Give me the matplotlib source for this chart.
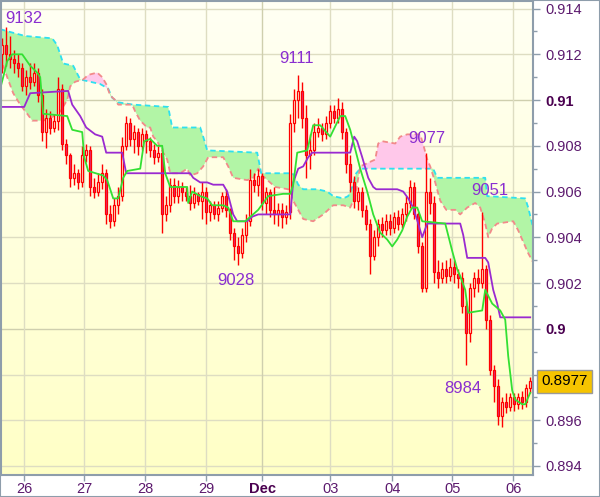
import numpy as np
import matplotlib
matplotlib.use("Agg")
import matplotlib.pyplot as plt
from matplotlib.colors import LinearSegmentedColormap
from matplotlib.patches import Rectangle

# ---------------- data (prices in pips: 9120 -> 0.9120) ----------------
first_open = 9120
closes = [9124, 9120, 9118, 9116, 9114, 9106, 9110, 9108, 9112, 9102,
          9086, 9092, 9088, 9091, 9105, 9081, 9076, 9066, 9068, 9064,
          9076, 9078, 9062, 9060, 9064, 9068, 9050, 9047, 9054, 9058,
          9080, 9090, 9083, 9086, 9080, 9085, 9082, 9078, 9075, 9077,
          9050, 9054, 9063, 9058, 9062, 9060, 9058, 9055, 9059, 9056,
          9060, 9051, 9054, 9050, 9053, 9058, 9052, 9042, 9036, 9033,
          9041, 9047, 9065, 9063, 9067, 9055, 9060, 9052, 9050, 9052,
          9049, 9051, 9090, 9100, 9104, 9092, 9076, 9078, 9086, 9088,
          9085, 9090, 9095, 9092, 9096, 9086, 9072, 9064, 9056, 9060,
          9052, 9046, 9032, 9040, 9046, 9043, 9047, 9044, 9049, 9046,
          9050, 9055, 9062, 9050, 9036, 9018, 9060, 9055, 9025, 9022,
          9026, 9023, 9027, 9024, 9022, 9010, 8998, 9018, 9022, 9020,
          9026, 9004, 8982, 8975, 8962, 8968, 8966, 8970, 8967, 8970,
          8968, 8974, 8977]
highs = [9127, 9132, 9128, 9122, 9120, 9116, 9113, 9116, 9116, 9114,
         9105, 9096, 9095, 9094, 9110, 9107, 9083, 9077, 9072, 9070,
         9080, 9081, 9080, 9066, 9068, 9072, 9070, 9054, 9057, 9062,
         9084, 9093, 9092, 9089, 9088, 9088, 9087, 9084, 9081, 9080,
         9079, 9058, 9066, 9066, 9065, 9064, 9062, 9063, 9062, 9060,
         9064, 9062, 9056, 9056, 9056, 9060, 9061, 9053, 9044, 9040,
         9044, 9050, 9070, 9068, 9070, 9068, 9062, 9061, 9062, 9055,
         9055, 9054, 9094, 9105, 9111, 9108, 9098, 9085, 9090, 9092,
         9090, 9093, 9098, 9098, 9101, 9099, 9088, 9076, 9067, 9062,
         9062, 9054, 9048, 9043, 9048, 9049, 9050, 9050, 9051, 9052,
         9053, 9058, 9065, 9064, 9051, 9038, 9077, 9066, 9058, 9030,
         9029, 9030, 9031, 9030, 9026, 9025, 9012, 9020, 9025, 9026,
         9051, 9028, 9006, 8984, 8978, 8970, 8972, 8972, 8972, 8972,
         8973, 8976, 8979]
lows = [9112, 9115, 9114, 9112, 9110, 9104, 9102, 9105, 9106, 9099,
        9082, 9079, 9085, 9086, 9087, 9078, 9072, 9062, 9063, 9061,
        9062, 9073, 9058, 9057, 9058, 9061, 9046, 9044, 9045, 9050,
        9056, 9078, 9080, 9077, 9076, 9078, 9077, 9075, 9072, 9073,
        9042, 9047, 9051, 9055, 9055, 9056, 9056, 9052, 9053, 9054,
        9048, 9046, 9047, 9048, 9047, 9051, 9049, 9039, 9030, 9028,
        9031, 9038, 9045, 9060, 9058, 9052, 9050, 9049, 9046, 9045,
        9044, 9046, 9048, 9086, 9092, 9088, 9066, 9070, 9076, 9084,
        9082, 9083, 9088, 9090, 9090, 9083, 9068, 9060, 9053, 9052,
        9049, 9043, 9024, 9030, 9036, 9040, 9041, 9041, 9042, 9043,
        9044, 9047, 9053, 9048, 9033, 9016, 9016, 9050, 9020, 9018,
        9020, 9020, 9021, 9020, 9018, 9007, 8984, 8994, 9014, 9016,
        9018, 9000, 8980, 8968, 8958, 8957, 8963, 8964, 8964, 8965,
        8965, 8966, 8972]

# Tenkan-sen (green)
tenkan_x = [-0.5, 0.25, 1.25, 2.5, 5, 7, 8.75, 9.5, 10.25, 16.25, 17.5, 20, 20.5,
            21.5, 25.25, 26.25, 27.75, 29, 30.25, 31.25, 34.5, 35.5, 37, 38.75, 40,
            40.75, 42, 46.25, 46.5, 47.5, 49.5, 51.25, 52.5, 55.25, 56.5, 57.75,
            60.75, 64, 66.5, 70.25, 72, 72.75, 73.75, 76.25, 77.75, 79.5, 82, 84.5,
            85.75, 87, 89.5, 91.25, 92.75, 94.5, 96.25, 97.5, 98.75, 100, 101.25,
            102.5, 103.75, 105, 110.75, 112.5, 113.75, 114.5, 115.75, 116.5, 120,
            120.75, 122.5, 124.5, 125.75, 126.5, 127.5, 128.25, 130, 130.75, 132]
tenkan = [9105, 9110, 9117, 9120, 9120, 9115, 9112, 9110, 9094, 9093, 9087, 9086, 9075,
          9069, 9067, 9065, 9057, 9057, 9066, 9069, 9070, 9082, 9083, 9080, 9080,
          9068, 9062, 9062, 9055, 9060, 9058, 9057, 9054, 9054, 9053, 9047,
          9047, 9052, 9058, 9059, 9059, 9063, 9077, 9078, 9089, 9089, 9084, 9093,
          9093, 9087, 9070, 9060, 9050, 9042, 9039, 9036, 9039, 9043, 9049,
          9053, 9053, 9047, 9046, 9034, 9026, 9023, 9017, 9007, 9008,
          9017, 9011, 9008, 9004, 8988, 8973, 8969, 8967, 8967, 8972]

# Kijun-sen (purple)
kijun_x = [-0.5, 5.5, 7, 16.5, 17.5, 19.5, 21, 23.25, 25, 26, 30, 31, 47, 47.75, 49.5,
           51.25, 52.75, 55.25, 56.25, 57.75, 58.75, 61.25, 62.5, 64, 72, 72.75, 74,
           75.25, 76.5, 77.5, 87, 88, 88.75, 90, 91.5, 92.75, 93.5, 98.75, 100.25,
           101.5, 102.75, 104, 105, 106.25, 114.5, 115.25, 116.25, 120.75, 121.5,
           122.75, 123.75, 124.5, 132]
kijun = [9097, 9097, 9103, 9104, 9098, 9093, 9088, 9085, 9084, 9077, 9077, 9068, 9068, 9066, 9064,
         9064, 9063, 9063, 9060, 9050, 9047, 9047, 9049, 9050, 9050, 9064, 9070,
         9071, 9075, 9077, 9077, 9084, 9082, 9075, 9066, 9062, 9061, 9061, 9060,
         9057, 9053, 9046, 9040, 9046, 9046, 9041, 9031, 9031, 9029,
         9017, 9011, 9005, 9005]

# Senkou span A (cyan dashed)
span_a_x = [-0.5, 1.5, 5.75, 12.5, 13.75, 15.25, 17.75, 19.5, 24.5, 26.5, 27.5, 29,
            32.75, 41.5, 42.5, 49.5, 50.25, 51.25, 63.75, 64.75, 72.5, 73, 74, 75.25,
            78.75, 81.25, 82.75, 85.25, 86.5, 87.5, 88.5, 89.5, 107, 107.75, 108.75,
            120.75, 121.25, 130.75, 131.5, 132.75]
span_a = [9131, 9130, 9128, 9127, 9124, 9116, 9115, 9109, 9107, 9105, 9101, 9099,
          9098, 9097, 9088, 9088, 9084, 9078, 9077, 9068, 9068, 9067, 9063, 9061,
          9061, 9060, 9058, 9057, 9058, 9062, 9068, 9070, 9070, 9070, 9066,
          9066, 9058, 9057, 9053, 9044]

# Senkou span B (salmon dashed)
span_b_x = [-0.5, 1.25, 2.75, 4.5, 6.25, 7.5, 10.25, 12, 14.5, 16.25, 17, 18.25, 20.25,
            21.5, 23.75, 25, 26, 27, 28.25, 29, 32.5, 33.25, 34.5, 36.25, 37, 37.75,
            38.75, 40.25, 41.25, 42, 44.5, 46.25, 47, 48.75, 50.25, 51.5, 55.25, 56.5,
            57.75, 61.25, 62.75, 64, 65, 68.25, 71.5, 72.75, 74, 75.25, 77.75, 80.25,
            82.75, 85.25, 87, 88.25, 89.5, 93.25, 94, 95, 98.25, 99.5, 101.25, 104.5,
            105.5, 106.25, 107, 108.25, 109.5, 111, 113.25, 114.5, 116.25, 118.25,
            119.5, 120.75, 121.5, 122.5, 123.75, 127.75, 129, 130.25, 131.5, 132.75]
span_b = [9119, 9110, 9103, 9098, 9094, 9091, 9091, 9092, 9095, 9100, 9106, 9108, 9109,
          9111, 9112, 9110, 9107, 9102, 9100, 9098, 9098, 9095, 9091, 9088, 9088, 9084,
          9082, 9077, 9074, 9068, 9068, 9070, 9067, 9068, 9071, 9075, 9075, 9071,
          9066, 9065, 9066, 9070, 9067, 9062, 9061, 9056, 9052, 9048, 9047, 9050,
          9054, 9054, 9053, 9058, 9071, 9074, 9081, 9082, 9081, 9084, 9085, 9085,
          9079, 9074, 9071, 9064, 9056, 9052, 9052, 9050, 9053, 9055,
          9053, 9046, 9040, 9044, 9046, 9047, 9043, 9038, 9033, 9029]

# x tick labels (day boundaries, in bar units)
day_pos = [5.5, 20.5, 35.75, 51, 65, 82, 97.5, 112.5, 127.75]
day_labels = ["26", "27", "28", "29", "Dec", "03", "04", "05", "06"]

# swing annotations
ann_text = ["9132", "9111", "9028", "9077", "9051", "8984"]
ann_x = [0.75, 73.5, 58.5, 106.25, 122.0, 115.25]
ann_y = [9135.6, 9118, 9021, 9083, 9060.5, 8974]
ann_ha = ["left", "center", "center", "center", "center", "center"]

last_price = "0.8977"

# ---------------- figure ----------------
plt.rcParams['font.family'] = ['Liberation Sans', 'DejaVu Sans']
fig = plt.figure(figsize=(6.0, 4.97), dpi=100)
fig.patch.set_facecolor('white')
ax = fig.add_axes([0.002, 0.0443, 0.8867, 0.9545])

xmin, xmax = -0.25, 132.75
ymin, ymax = 0.893607, 0.914349
ax.set_xlim(xmin, xmax)
ax.set_ylim(ymin, ymax)

# gradient background
cmap = LinearSegmentedColormap.from_list("bg", ["#ffffc6", "#fffff4"])
grad = np.linspace(0, 1, 256).reshape(-1, 1)
ax.imshow(grad, extent=[xmin, xmax, ymin, ymax], origin='lower', aspect='auto',
          cmap=cmap, zorder=0)

# grid
grid_c = '#deddc2'
for v in np.arange(0.894, 0.91401, 0.002):
    strong = abs(v - 0.91) < 1e-6 or abs(v - 0.90) < 1e-6
    ax.axhline(v, color='#cfcfae' if strong else grid_c, lw=1.0, zorder=1)
for p, lab in zip(day_pos, day_labels):
    ax.axvline(p, color='#cfcfae' if lab == "Dec" else grid_c, lw=1.0, zorder=1)

# cloud
xs = np.linspace(-0.5, 132.75, 3000)
a = np.interp(xs, span_a_x, span_a) / 10000.0
b = np.interp(xs, span_b_x, span_b) / 10000.0
ax.fill_between(xs, a, b, where=a >= b, interpolate=True, color='#b2f5a6', lw=0, zorder=2)
ax.fill_between(xs, a, b, where=a < b, interpolate=True, color='#ffc8ea', lw=0, zorder=2)
ax.plot(span_a_x, np.array(span_a) / 10000.0, color='#2ee0f0', lw=1.3,
        dashes=(3, 2), zorder=3)
ax.plot(span_b_x, np.array(span_b) / 10000.0, color='#f28a8a', lw=1.3,
        dashes=(3, 2), zorder=3)

# candles
n = len(closes)
idx = np.arange(n)
c = np.array(closes) / 10000.0
o = np.array([first_open] + closes[:-1]) / 10000.0
h = np.array(highs) / 10000.0
l = np.array(lows) / 10000.0
ax.vlines(idx, l, h, color='#ff0000', lw=1.0, zorder=4)
up = c >= o
body_lo = np.minimum(o, c)
body_h = np.maximum(np.abs(c - o), 0.00003)
ax.bar(idx[up], body_h[up], bottom=body_lo[up], width=0.6, facecolor='#fffbe0',
       edgecolor='#ff0000', lw=0.9, zorder=5)
ax.bar(idx[~up], body_h[~up], bottom=body_lo[~up], width=0.6, facecolor='#e0307a',
       edgecolor='#ff0000', lw=0.9, zorder=5)

# tenkan / kijun
ax.plot(kijun_x, np.array(kijun) / 10000.0, color='#9a2ad0', lw=1.3, zorder=6)
ax.plot(tenkan_x, np.array(tenkan) / 10000.0, color='#33e033', lw=1.3, zorder=6)

# annotations
for t, x, y, ha in zip(ann_text, ann_x, ann_y, ann_ha):
    ax.text(x, y / 10000.0, t, color='#8a2ed0', fontsize=12, ha=ha, va='center', zorder=8)

# axes styling
frame_c = '#8e9dab'
for s in ax.spines.values():
    s.set_color(frame_c)
    s.set_linewidth(1.5)
    s.set_zorder(9)

ax.yaxis.tick_right()
yt = np.round(np.arange(0.894, 0.91401, 0.002), 3)
ax.set_yticks(yt)
ylabels = []
for v in yt:
    s = ('%.3f' % v).rstrip('0').rstrip('.')
    ylabels.append(s)
ax.set_yticklabels(ylabels)
ax.set_yticks(np.round(np.arange(0.895, 0.9141, 0.002), 3), minor=True)
ax.tick_params(axis='y', which='major', direction='out', length=5, width=1,
               color=frame_c, labelsize=10.5, labelcolor='#5c1a6e', pad=4)
ax.tick_params(axis='y', which='minor', direction='out', length=3, width=1, color=frame_c)
for lab in ax.get_yticklabels():
    if lab.get_text() in ("0.91", "0.9"):
        lab.set_fontweight('bold')
        lab.set_color('#4a0050')

ax.set_xticks(day_pos)
ax.set_xticklabels(day_labels)
ax.tick_params(axis='x', direction='out', length=4, width=1, color=frame_c,
               labelsize=10.5, labelcolor='#5c1a6e', pad=1)
for lab in ax.get_xticklabels():
    if lab.get_text() == "Dec":
        lab.set_fontweight('bold')
        lab.set_color('#4a0050')

# last price tag
ax.annotate(last_price, xy=(1.0, 0.8977), xycoords=('axes fraction', 'data'),
            xytext=(6, 0), textcoords='offset points', ha='left', va='center',
            fontsize=11, color='black', zorder=20, annotation_clip=False,
            bbox=dict(boxstyle='square,pad=0.28', fc='#f6c400', ec='#9a9a9a', lw=1))

# outer figure border
fig.patches.append(Rectangle((0.0008, 0.001), 0.9985, 0.998, transform=fig.transFigure,
                             fill=False, ec=frame_c, lw=1.5, zorder=30))

fig.savefig("out.png", dpi=100)
